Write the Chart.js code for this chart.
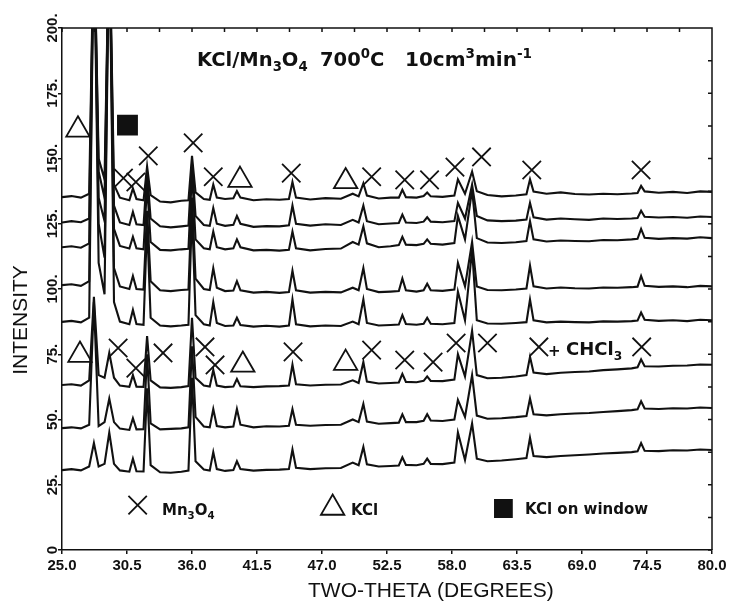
<!DOCTYPE html>
<html>
<head>
<meta charset="utf-8">
<script src="https://cdn.jsdelivr.net/npm/chart.js@4.4.0/dist/chart.umd.min.js"></script>
<style>
    html, body { margin: 0; padding: 0; background: #fff; }
</style>
</head>
<body>
<canvas id="chart_canvas" width="736" height="602" style="width:736px;height:602px"></canvas>
<script>
// two-theta positions sampled along every scan
const twoTheta = [25.0, 25.8, 26.6, 27.3, 27.7, 28.1, 28.6, 29.0, 29.4, 29.9,
    30.7, 31.0, 31.3, 31.9, 32.2, 32.5, 33.3, 34.2, 35.1, 35.7,
    36.0, 36.3, 37.0, 37.5, 37.8, 38.1, 38.8, 39.5, 39.8, 40.1,
    41.2, 42.3, 43.4, 44.2, 44.5, 44.8, 46.0, 47.3, 48.6, 49.6,
    50.1, 50.5, 50.8, 51.8, 52.8, 53.5, 53.8, 54.1, 55.0, 55.6,
    55.9, 56.2, 57.2, 58.2, 58.5, 59.1, 59.7, 60.1, 61.0, 62.2,
    63.4, 64.3, 64.6, 64.9, 66.0, 67.2, 68.4, 69.6, 70.8, 72.0,
    73.2, 73.7, 74.0, 74.3, 75.5, 76.7, 77.9, 79.0, 80.0];

// scans, top to bottom
const scan1 = [135.2, 135.6, 135, 136.5, 240, 150, 142, 240, 140, 135,
    134, 138.5, 134.5, 134, 147, 136, 133.5, 133.2, 133.8, 134,
    151, 137, 134.5, 134.2, 140, 135, 134.5, 134.8, 137.5, 135,
    134, 134.4, 134.2, 134.5, 141, 135, 134.3, 134.8, 134.6, 136.5,
    135.5, 140.5, 135.8, 134.7, 135, 135, 138, 135.2, 135, 135.6,
    137, 135.5, 135.3, 135.8, 142, 136.5, 145, 137.5, 136, 135.5,
    135.8, 136.3, 142, 137.3, 136.5, 137, 136.4, 136.2, 136.5, 136.3,
    136.6, 136.8, 139.5, 137.4, 136.9, 137.2, 136.8, 137.4, 137.2];
const scan2 = [125.5, 126, 125.6, 127, 240, 145, 135, 240, 132, 125.5,
    124.5, 129.5, 124.8, 124.5, 145, 127, 124, 123.6, 124, 124.3,
    148, 128, 124.5, 124.2, 131, 125, 124.2, 124.6, 128, 125,
    123.8, 124.1, 124, 124.4, 132, 125, 124.3, 124.8, 124.5, 126.5,
    125.5, 132, 126, 124.8, 125.1, 125.3, 128.5, 125.5, 125.3, 125.8,
    127.5, 125.8, 125.6, 126, 133, 127, 140, 128, 126.3, 126,
    126.2, 126.6, 133, 127.5, 126.6, 127, 126.7, 126.5, 127, 126.8,
    127, 127.2, 130, 127.7, 127.4, 127.6, 127.3, 127.8, 127.6];
const scan3 = [116, 116.4, 115.8, 117.5, 240, 135, 126, 240, 123, 116.5,
    115.5, 120, 115.6, 115.2, 140, 118, 115, 114.8, 115.2, 115.4,
    145, 119, 115.6, 115.2, 122, 116, 115.2, 115.6, 119, 116,
    114.8, 115, 114.7, 115, 122, 115.6, 114.8, 115.3, 115.5, 118,
    117, 124, 117.5, 116, 116.4, 116.8, 120, 117, 116.8, 117.3,
    119, 117.3, 117, 117.6, 128, 119, 138, 119.5, 117.8, 117.6,
    117.9, 118.4, 126, 119, 118.2, 118.6, 118.4, 118.3, 118.8, 118.7,
    119, 119.2, 123, 119.6, 119.2, 119.5, 119.3, 119.8, 119.5];
const scan4 = [101.5, 101.8, 101.2, 103, 240, 125, 112, 240, 108, 101,
    100, 105, 100, 99.8, 130, 103, 99.5, 99.2, 99.6, 99.8,
    135, 104, 100, 99.6, 108, 100.5, 99.2, 99.4, 103, 99.5,
    98.6, 98.9, 98.5, 98.8, 107, 99.5, 98.6, 98.9, 98.7, 100.5,
    99.5, 108, 100, 98.8, 99, 99.2, 104, 99.5, 99, 99.5,
    102, 99.5, 99.3, 99.8, 110, 101, 118, 101, 99.6, 99.5,
    99.8, 100.2, 109, 101, 100.2, 100.6, 100.3, 100.2, 100.6, 100.5,
    100.7, 100.9, 105, 101.2, 100.8, 101, 100.7, 101.2, 101];
const scan5 = [87.4, 87.8, 87.2, 89, 240, 110, 98, 240, 95, 87.5,
    86.5, 92, 86.6, 86.3, 125, 89, 86, 85.7, 86, 86.3,
    130, 90, 86.5, 86, 95, 87, 85.8, 86, 89, 86.2,
    85.6, 85.9, 85.6, 86, 96, 86.5, 85.7, 86, 85.8, 87.5,
    86.5, 96, 87, 86, 86.2, 86.4, 90, 86.6, 86.3, 86.7,
    89, 86.7, 86.5, 87, 99, 88, 115, 88, 86.8, 86.7,
    87, 87.3, 96, 88, 87.2, 87.5, 87.3, 87.2, 87.6, 87.5,
    87.7, 87.9, 91, 88.2, 87.8, 88, 87.7, 88.2, 88];
const scan6 = [63.2, 63.5, 63, 65, 97, 67, 66, 75.5, 66, 63,
    62.5, 67, 62.6, 62.5, 82, 65, 62.3, 62.1, 62.4, 62.8,
    89, 66, 63, 62.6, 69, 63, 62.4, 62.6, 65.5, 62.7,
    62.4, 62.7, 62.8, 63, 71, 63.5, 63, 63.3, 63.4, 65,
    64, 72, 64.5, 63.8, 64, 64.2, 67.5, 64.4, 64.3, 64.8,
    66.5, 64.8, 64.7, 65.3, 75, 66.5, 84, 67, 65.8, 66,
    66.5, 67, 74, 68, 67.4, 67.9, 68.2, 68.4, 68.9, 69.2,
    69.6, 70, 73, 70.4, 70.3, 70.6, 70.7, 71.1, 71];
const scan7 = [46.7, 47, 46.6, 48, 95, 47.5, 49, 58, 49, 46.5,
    46, 50.5, 46.2, 46.3, 75, 48.5, 46.2, 46.4, 46.6, 47,
    78, 51, 47.3, 47, 54, 47.5, 47, 47.3, 54, 48,
    47, 47.4, 47.3, 47.6, 54, 48, 47.6, 47.9, 48, 50,
    49, 56, 49.2, 48.4, 48.6, 48.8, 52, 49, 49, 49.5,
    52, 49.6, 49.4, 50, 57.5, 51, 67, 51.5, 50.3, 50.5,
    50.9, 51.3, 58, 52, 51.6, 52, 52.3, 52.5, 52.9, 53.2,
    53.6, 53.9, 57, 54.2, 54, 54.3, 54.2, 54.6, 54.4];
const scan8 = [30.6, 31, 30.5, 32, 41, 32, 33, 45, 33, 30.5,
    30, 35, 30.2, 30.1, 62, 32.5, 29.8, 29.6, 30, 30.4,
    66, 34, 30.8, 30.4, 37.5, 31, 30.3, 30.6, 34, 31,
    30.4, 30.7, 30.8, 31, 38.5, 31.5, 31, 31.3, 31.4, 33.5,
    32.5, 39.5, 32.8, 32, 32.2, 32.4, 35.5, 32.6, 32.5, 33,
    35, 33, 32.9, 33.5, 45, 34.5, 48.5, 35, 34, 34.3,
    34.8, 35.2, 43, 36, 35.6, 36, 36.3, 36.6, 37, 37.2,
    37.5, 37.8, 41, 38, 37.9, 38.2, 38.1, 38.5, 38.3];

// peak labels [two-theta, intensity]
const mn3o4Marks = [[30.2, 142.5], [31.25, 141], [32.3, 151], [36.1, 156], [37.8, 143],
    [44.4, 144.4], [51.2, 143], [54.0, 141.8], [56.1, 141.8], [58.25, 146.7],
    [60.5, 150.6], [64.75, 145.6], [74.0, 145.6],
    [29.75, 77.4], [31.25, 69.7], [33.55, 75.5], [37.1, 77.8], [37.95, 70.9],
    [44.55, 75.9], [51.2, 76.6], [54.0, 72.8], [56.4, 72], [58.35, 79.3],
    [61.0, 79.3], [65.35, 77.8], [74.05, 77.8]];
const kclMarks = [[26.35, 161], [40.06, 141.7], [49.0, 141.2],
    [26.52, 74.7], [40.3, 70.9], [49.0, 71.6]];
const windowMarks = [[30.54, 162.8]];
// key at the bottom of the plot
const keyMn3o4 = [[31.4, 17.2]];
const keyKcl = [[47.9, 16.1]];
const keyWindow = [[62.35, 15.9]];

const xTicks = [25.0, 30.5, 36.0, 41.5, 47.0, 52.5, 58.0, 63.5, 69.0, 74.5, 80.0];
const yTicks = [0, 25, 50, 75, 100, 125, 150, 175, 200];

const ink = '#111';
const scans = [scan1, scan2, scan3, scan4, scan5, scan6, scan7, scan8];

function toPoints(list) {
    return list.map(function(p) { return {x: p[0], y: p[1]}; });
}

var datasets = [];
function marks(list, style, radius, fill) {
    datasets.push({
        type: 'scatter',
        data: toPoints(list),
        pointStyle: style,
        pointRadius: radius,
        borderColor: ink,
        backgroundColor: fill,
        pointBorderWidth: 1.8,
        borderWidth: 1.8
    });
}
marks(mn3o4Marks, 'crossRot', 13, ink);
marks(kclMarks, 'triangle', 13.5, 'rgba(0,0,0,0)');
marks(windowMarks, 'rect', 13.5, ink);
marks(keyMn3o4, 'crossRot', 13, ink);
marks(keyKcl, 'triangle', 13.5, 'rgba(0,0,0,0)');
marks(keyWindow, 'rect', 12, ink);

scans.forEach(function(scan) {
    datasets.push({
        type: 'line',
        data: twoTheta.map(function(t, i) { return {x: t, y: scan[i]}; }),
        borderColor: ink,
        borderWidth: 2.1,
        pointRadius: 0,
        tension: 0,
        fill: false
    });
});

// text with sub- and superscripts
function drawRich(ctx, x, y, runs, size, weight, family) {
    runs.forEach(function(run) {
        var s = run[1] ? size * 0.68 : size;
        var dy = run[1] === 'sub' ? size * 0.28 : (run[1] === 'sup' ? -size * 0.42 : 0);
        ctx.font = weight + ' ' + s + 'px ' + family;
        ctx.fillText(run[0], x, y + dy);
        x += ctx.measureText(run[0]).width;
    });
}

const annotations = {
    id: 'annotations',
    afterDraw: function(chart) {
        var ctx = chart.ctx;
        var a = chart.chartArea;
        var xs = chart.scales.x, ys = chart.scales.y;
        ctx.save();
        // frame top and right with small inward ticks
        ctx.strokeStyle = ink;
        ctx.lineWidth = 1.5;
        ctx.beginPath();
        ctx.moveTo(a.left, a.top); ctx.lineTo(a.right, a.top); ctx.lineTo(a.right, a.bottom);
        for (var i = 0; i < xTicks.length - 1; i++) {
            [xTicks[i], (xTicks[i] + xTicks[i + 1]) / 2].forEach(function(v) {
                var px = xs.getPixelForValue(v);
                ctx.moveTo(px, a.top); ctx.lineTo(px, a.top + 4);
            });
        }
        for (var j = 0; j < yTicks.length - 1; j++) {
            [yTicks[j], (yTicks[j] + yTicks[j + 1]) / 2].forEach(function(v) {
                var py = ys.getPixelForValue(v);
                ctx.moveTo(a.right, py); ctx.lineTo(a.right - 4, py);
            });
        }
        ctx.stroke();

        ctx.fillStyle = ink;
        ctx.textBaseline = 'alphabetic';
        ctx.textAlign = 'left';
        var bold = '"DejaVu Sans", sans-serif';
        drawRich(ctx, 197, 66, [['KCl/Mn'], ['3', 'sub'], ['O'], ['4', 'sub']], 19.5, 'bold', bold);
        drawRich(ctx, 320, 66, [['700'], ['0', 'sup'], ['C']], 19.5, 'bold', bold);
        drawRich(ctx, 405, 66, [['10cm'], ['3', 'sup'], ['min'], ['-1', 'sup']], 20, 'bold', bold);

        drawRich(ctx, 162, 515, [['Mn'], ['3', 'sub'], ['O'], ['4', 'sub']], 15, 'bold', bold);
        drawRich(ctx, 351, 515, [['KCl']], 15, 'bold', bold);
        drawRich(ctx, 525, 514, [['KCl on window']], 15, 'bold', bold);

        drawRich(ctx, 548, 356, [['+']], 15, 'bold', bold);
        drawRich(ctx, 566, 355, [['CHCl'], ['3', 'sub']], 18, 'bold', bold);

        // axis titles
        ctx.font = '21px "Liberation Sans", Arial, sans-serif';
        ctx.fillText('TWO-THETA (DEGREES)', 308, 597);
        ctx.save();
        ctx.translate(27, 320);
        ctx.rotate(-Math.PI / 2);
        ctx.textAlign = 'center';
        ctx.font = '21px "Liberation Sans", Arial, sans-serif';
        ctx.fillText('INTENSITY', 0, 0);
        ctx.restore();
        ctx.restore();
    }
};

var context = document.getElementById('chart_canvas');
var chart = new Chart(context, {
    data: { datasets: datasets },
    plugins: [annotations],
    options: {
        responsive: false,
        animation: false,
        layout: { padding: { left: 0, right: 24, top: 28, bottom: 0 } },
        plugins: { legend: { display: false }, tooltip: { enabled: false } },
        scales: {
            x: {
                type: 'linear',
                min: 25,
                max: 80,
                afterBuildTicks: function(scale) {
                    scale.ticks = xTicks.map(function(v) { return {value: v}; });
                },
                afterFit: function(scale) { scale.height = 52; },
                grid: { drawOnChartArea: false, drawTicks: true, tickLength: 4, color: ink, lineWidth: 1.5 },
                border: { display: true, color: ink, width: 1.5 },
                ticks: {
                    autoSkip: false,
                    maxRotation: 0,
                    padding: 3,
                    color: ink,
                    font: { family: '"Liberation Sans", Arial, sans-serif', size: 15, weight: 'bold' },
                    callback: function(v) { return v.toFixed(1); }
                }
            },
            y: {
                type: 'linear',
                min: 0,
                max: 200,
                afterBuildTicks: function(scale) {
                    scale.ticks = yTicks.map(function(v) { return {value: v}; });
                },
                afterFit: function(scale) { scale.width = 62; },
                grid: { drawOnChartArea: false, drawTicks: true, tickLength: 4, color: ink, lineWidth: 1.5 },
                border: { display: true, color: ink, width: 1.5 },
                ticks: {
                    minRotation: 90,
                    maxRotation: 90,
                    crossAlign: 'center',
                    padding: -9,
                    color: ink,
                    font: { family: '"Liberation Sans", Arial, sans-serif', size: 15, weight: 'bold' },
                    callback: function(v) { return v === 0 ? '0' : v + '.'; }
                }
            }
        }
    }
});
</script>
</body>
</html>
